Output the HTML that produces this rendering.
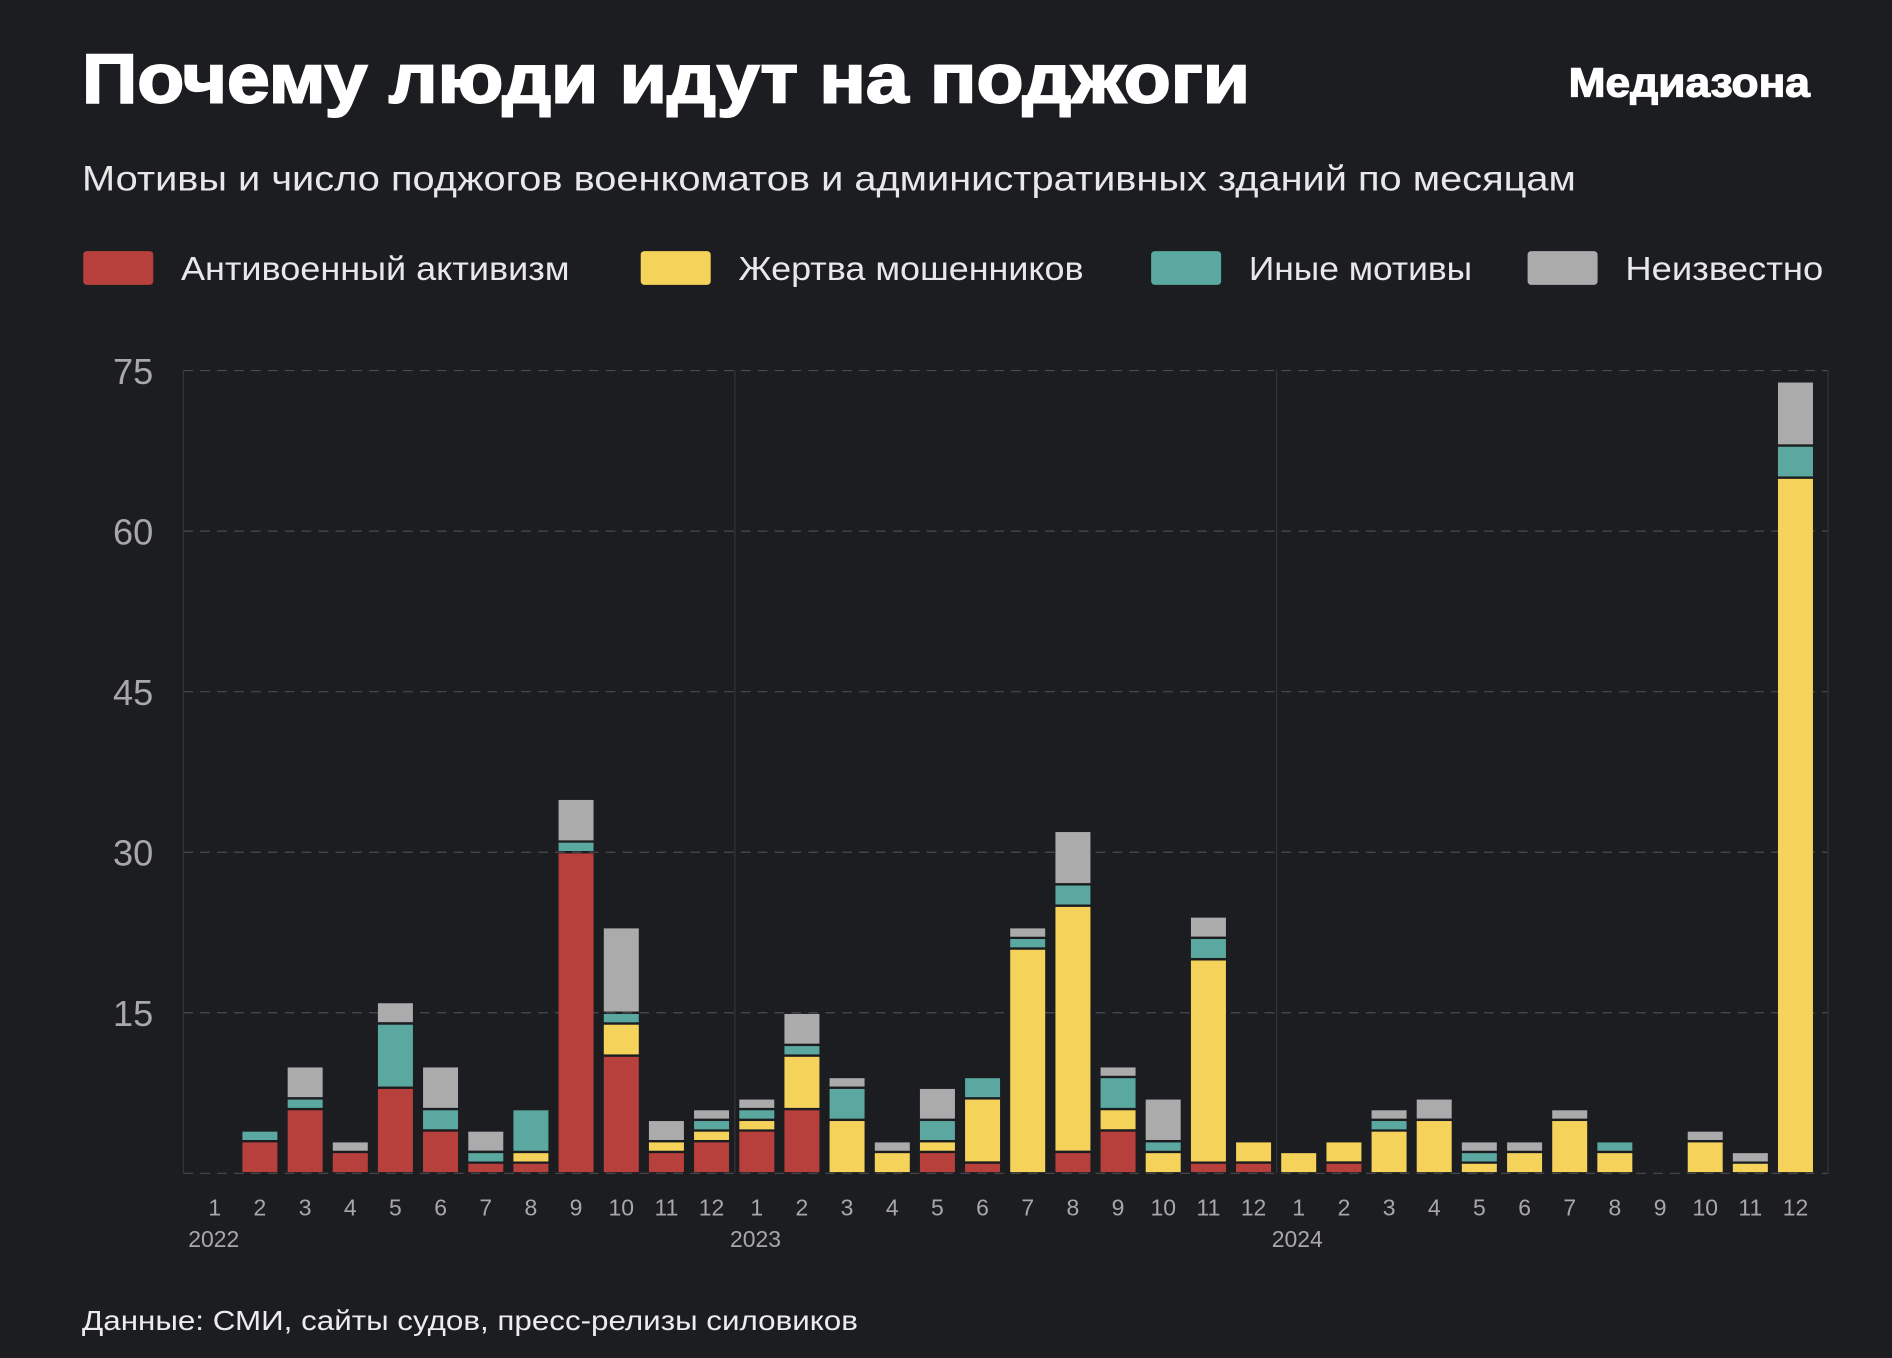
<!DOCTYPE html>
<html><head><meta charset="utf-8">
<style>
html,body{margin:0;padding:0;background:#1c1d21;}
svg{display:block;}
text{font-family:"Liberation Sans","DejaVu Sans",sans-serif;}
</style></head>
<body>
<svg id="c" width="1892" height="1358" viewBox="0 0 1568 1125" preserveAspectRatio="none" xmlns="http://www.w3.org/2000/svg">
<rect width="1568" height="1125" fill="#1c1d21"/>
<text x="68" y="85" font-size="58" font-weight="bold" fill="#fff" stroke="#fff" stroke-width="1.6" textLength="968" lengthAdjust="spacingAndGlyphs">Почему люди идут на поджоги</text>
<text x="1500" y="80" font-size="34" font-weight="bold" fill="#fff" stroke="#fff" stroke-width="1" text-anchor="end" textLength="200" lengthAdjust="spacingAndGlyphs">Медиазона</text>
<text x="68" y="158" font-size="29" fill="#e8e8e8" textLength="1238" lengthAdjust="spacingAndGlyphs">Мотивы и число поджогов военкоматов и административных зданий по месяцам</text>
<g font-size="28" fill="#e8e8e8">
<rect x="69" y="208" width="58" height="28" rx="3" fill="#b8403c"/>
<text x="150" y="232" textLength="322" lengthAdjust="spacingAndGlyphs">Антивоенный активизм</text>
<rect x="531" y="208" width="58" height="28" rx="3" fill="#f5d25a"/>
<text x="612" y="232" textLength="286" lengthAdjust="spacingAndGlyphs">Жертва мошенников</text>
<rect x="954" y="208" width="58" height="28" rx="3" fill="#5aa8a0"/>
<text x="1035" y="232" textLength="185" lengthAdjust="spacingAndGlyphs">Иные мотивы</text>
<rect x="1266" y="208" width="58" height="28" rx="3" fill="#ababab"/>
<text x="1347" y="232" textLength="164" lengthAdjust="spacingAndGlyphs">Неизвестно</text>
</g>
<g stroke="#4a4b50" stroke-width="1" stroke-dasharray="8,6">
<line x1="152" y1="307" x2="1515" y2="307"/>
<line x1="152" y1="440" x2="1515" y2="440"/>
<line x1="152" y1="573" x2="1515" y2="573"/>
<line x1="152" y1="706" x2="1515" y2="706"/>
<line x1="152" y1="839" x2="1515" y2="839"/>
<line x1="152" y1="972" x2="1515" y2="972"/>
</g>
<g stroke="#34353a" stroke-width="1">
<line x1="152" y1="307" x2="152" y2="972"/>
<line x1="609" y1="307" x2="609" y2="972"/>
<line x1="1058" y1="307" x2="1058" y2="972"/>
<line x1="1515" y1="307" x2="1515" y2="972"/>
</g>
<g font-size="30" fill="#a8a8a8" text-anchor="end">
<text x="127" y="318">75</text>
<text x="127" y="451">60</text>
<text x="127" y="584">45</text>
<text x="127" y="717">30</text>
<text x="127" y="850">15</text>
</g>
<g id="bars"></g>
<g font-size="19" fill="#a8a8a8" text-anchor="middle">
<text x="178" y="1007">1</text><text x="215.4" y="1007">2</text><text x="252.9" y="1007">3</text><text x="290.3" y="1007">4</text><text x="327.7" y="1007">5</text><text x="365.2" y="1007">6</text><text x="402.6" y="1007">7</text><text x="440" y="1007">8</text><text x="477.4" y="1007">9</text><text x="514.9" y="1007">10</text><text x="552.3" y="1007">11</text><text x="589.7" y="1007">12</text>
<text x="627.2" y="1007">1</text><text x="664.6" y="1007">2</text><text x="702" y="1007">3</text><text x="739.5" y="1007">4</text><text x="776.9" y="1007">5</text><text x="814.3" y="1007">6</text><text x="851.7" y="1007">7</text><text x="889.2" y="1007">8</text><text x="926.6" y="1007">9</text><text x="964" y="1007">10</text><text x="1001.5" y="1007">11</text><text x="1038.9" y="1007">12</text>
<text x="1076.3" y="1007">1</text><text x="1113.8" y="1007">2</text><text x="1151.2" y="1007">3</text><text x="1188.6" y="1007">4</text><text x="1226" y="1007">5</text><text x="1263.5" y="1007">6</text><text x="1300.9" y="1007">7</text><text x="1338.3" y="1007">8</text><text x="1375.8" y="1007">9</text><text x="1413.2" y="1007">10</text><text x="1450.6" y="1007">11</text><text x="1488" y="1007">12</text>
</g>
<g font-size="19" fill="#a8a8a8">
<text x="156" y="1033">2022</text>
<text x="605" y="1033">2023</text>
<text x="1054" y="1033">2024</text>
</g>
<text x="68" y="1102" font-size="23" fill="#ececec" textLength="643" lengthAdjust="spacingAndGlyphs">Данные: СМИ, сайты судов, пресс-релизы силовиков</text>
</svg>
<script>
var d=[[0,0,0,0],[3,0,1,0],[6,0,1,3],[2,0,0,1],[8,0,6,2],[4,0,2,4],[1,0,1,2],[1,1,4,0],[30,0,1,4],[11,3,1,8],[2,1,0,2],[3,1,1,1],
[4,1,1,1],[6,5,1,3],[0,5,3,1],[0,2,0,1],[2,1,2,3],[1,6,2,0],[0,21,1,1],[2,23,2,5],[4,2,3,1],[0,2,1,4],[1,19,2,2],[1,2,0,0],
[0,2,0,0],[1,2,0,0],[0,4,1,1],[0,5,0,2],[0,1,1,1],[0,2,0,1],[0,5,0,1],[0,2,1,0],[0,0,0,0],[0,3,0,1],[0,1,0,1],[0,65,3,6]];
var col=["#b8403c","#f5d25a","#5aa8a0","#ababab"];
var g=document.getElementById("bars"),s="",u=665/75;
d.forEach(function(b,i){var x=178+i*37.43-14.5,y=972;
b.forEach(function(v,k){if(!v)return;var h=v*u;y-=h;
s+='<rect x="'+x.toFixed(1)+'" y="'+(y+1).toFixed(1)+'" width="29" height="'+(h-2).toFixed(1)+'" fill="'+col[k]+'"/>';});});
g.innerHTML=s;
</script>
</body></html>
